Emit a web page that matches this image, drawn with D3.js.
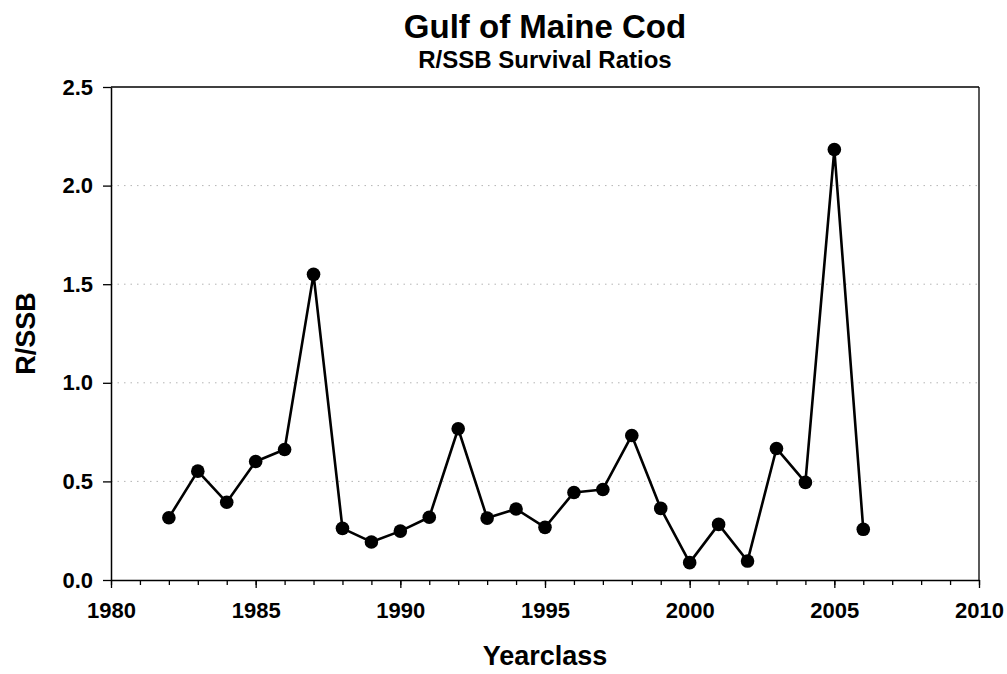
<!DOCTYPE html>
<html>
<head>
<meta charset="utf-8">
<script src="https://cdn.jsdelivr.net/npm/d3@7"></script>
<style>
  html, body { margin: 0; padding: 0; background: #fff; }
  svg { display: block; font-family: Arial, "Liberation Sans", Helvetica, sans-serif; font-weight: bold; }
</style>
</head>
<body>
<svg id="chart" width="1007" height="674"></svg>
<script>
// Recruitment per spawning stock biomass, by yearclass
const years = [1982, 1983, 1984, 1985, 1986, 1987, 1988, 1989, 1990, 1991, 1992, 1993, 1994,
               1995, 1996, 1997, 1998, 1999, 2000, 2001, 2002, 2003, 2004, 2005, 2006];
const ratios = [0.316, 0.552, 0.394, 0.601, 0.662, 1.55, 0.262, 0.193, 0.248, 0.318, 0.767, 0.314, 0.36,
                0.267, 0.444, 0.459, 0.733, 0.363, 0.088, 0.282, 0.096, 0.667, 0.495, 2.183, 0.257];

const xMajorTicks = [1980, 1985, 1990, 1995, 2000, 2005, 2010];
const xMinorTicks = d3.range(1980, 2011);
const yTicks = [0, 0.5, 1.0, 1.5, 2.0, 2.5];
const yGrid = [0.5, 1.0, 1.5, 2.0];

const titleText = "Gulf of Maine Cod";
const subtitleText = "R/SSB Survival Ratios";
const xTitle = "Yearclass";
const yTitle = "R/SSB";

const svg = d3.select("#chart");
const margin = { left: 111, right: 28, top: 87, bottom: 94 };
const W = 1007, H = 674;
const plotW = W - margin.left - margin.right;
const plotH = H - margin.top - margin.bottom;

const x = d3.scaleLinear().domain([1980, 2010]).range([0, plotW]);
const y = d3.scaleLinear().domain([0, 2.5]).range([plotH, 0]);

const g = svg.append("g").attr("transform", `translate(${margin.left},${margin.top})`);

// dotted horizontal grid
g.append("g").selectAll("line").data(yGrid).join("line")
  .attr("x1", 0).attr("x2", plotW)
  .attr("y1", d => y(d)).attr("y2", d => y(d))
  .attr("stroke", "#b4b4b4").attr("stroke-width", 1)
  .attr("stroke-dasharray", "1.5,5");

// frame: top and right edges
g.append("line").attr("x1", 0).attr("x2", plotW).attr("y1", 0).attr("y2", 0)
  .attr("stroke", "#000").attr("stroke-width", 1.3);
g.append("line").attr("x1", plotW).attr("x2", plotW).attr("y1", 0).attr("y2", plotH)
  .attr("stroke", "#000").attr("stroke-width", 1.3);

// x axis: minor ticks each year, major ticks with labels every five
const xMinor = g.append("g").attr("transform", `translate(0,${plotH})`)
  .call(d3.axisBottom(x).tickValues(xMinorTicks).tickSize(5).tickFormat(""));
xMinor.select(".domain").remove();
xMinor.selectAll("line").attr("stroke-width", 1.3);

const xAxis = g.append("g").attr("transform", `translate(0,${plotH})`)
  .call(d3.axisBottom(x).tickValues(xMajorTicks).tickSize(8).tickSizeOuter(0).tickPadding(14).tickFormat(d3.format("d")));
xAxis.select(".domain").attr("stroke-width", 1.5);
xAxis.selectAll("line").attr("stroke-width", 1.3);
xAxis.selectAll("text").attr("font-size", 22).attr("font-weight", "bold")
  .attr("font-family", "Arial, 'Liberation Sans', sans-serif").attr("fill", "#000");

// y axis
const yAxis = g.append("g")
  .call(d3.axisLeft(y).tickValues(yTicks).tickSize(8).tickSizeOuter(0).tickPadding(10).tickFormat(d3.format(".1f")));
yAxis.select(".domain").attr("stroke-width", 1.5);
yAxis.selectAll("line").attr("stroke-width", 1.3);
yAxis.selectAll("text").attr("font-size", 22).attr("font-weight", "bold")
  .attr("font-family", "Arial, 'Liberation Sans', sans-serif").attr("fill", "#000");

// series line and markers
const pts = years.map((yr, i) => ({ yr, v: ratios[i] }));
g.append("path").datum(pts)
  .attr("fill", "none").attr("stroke", "#000").attr("stroke-width", 2.6)
  .attr("stroke-linejoin", "round")
  .attr("d", d3.line().x(d => x(d.yr)).y(d => y(d.v)));
g.append("g").selectAll("circle").data(pts).join("circle")
  .attr("cx", d => x(d.yr)).attr("cy", d => y(d.v)).attr("r", 6.8)
  .attr("fill", "#000");

// titles
svg.append("text").attr("x", margin.left + plotW / 2).attr("y", 38)
  .attr("text-anchor", "middle").attr("font-size", 33).text(titleText);
svg.append("text").attr("x", margin.left + plotW / 2).attr("y", 68)
  .attr("text-anchor", "middle").attr("font-size", 24).text(subtitleText);
svg.append("text").attr("x", margin.left + plotW / 2).attr("y", 665)
  .attr("text-anchor", "middle").attr("font-size", 27).text(xTitle);
svg.append("text").attr("transform", `translate(35,${margin.top + plotH / 2}) rotate(-90)`)
  .attr("text-anchor", "middle").attr("font-size", 27).text(yTitle);
</script>
</body>
</html>
